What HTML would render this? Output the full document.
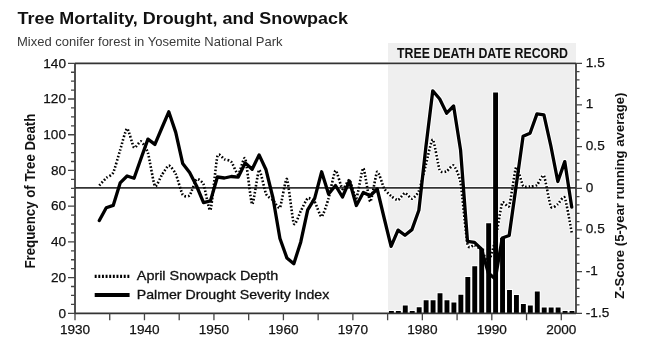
<!DOCTYPE html>
<html><head><meta charset="utf-8"><style>
html,body{margin:0;padding:0;background:#fff;width:650px;height:349px;overflow:hidden}
svg{display:block;will-change:transform}
text{font-family:"Liberation Sans",sans-serif;fill:#111}
.ttl{font-size:16.4px;font-weight:bold}
.sub{font-size:13.1px;fill:#3a3a3a}
.hdr{font-size:13.9px;font-weight:bold}
.tl{font-size:13.6px;stroke:#111;stroke-width:0.25px}
.at{font-size:13.5px;font-weight:bold}
.lg{font-size:12.8px;stroke:#111;stroke-width:0.3px}
</style></head><body>
<svg width="650" height="349" viewBox="0 0 650 349">
<rect x="388" y="43" width="188.0" height="270.3" fill="#efefef"/>
<path d="M387.94,310.00h6.90V313.3h-6.90ZM394.89,310.00h6.90V313.3h-6.90ZM401.83,304.50h6.90V313.3h-6.90ZM408.78,310.00h6.90V313.3h-6.90ZM415.73,306.20h6.90V313.3h-6.90ZM422.67,299.30h6.90V313.3h-6.90ZM429.62,299.30h6.90V313.3h-6.90ZM436.57,292.20h6.90V313.3h-6.90ZM443.51,299.30h6.90V313.3h-6.90ZM450.46,301.40h6.90V313.3h-6.90ZM457.41,293.80h6.90V313.3h-6.90ZM464.36,276.00h6.90V313.3h-6.90ZM471.30,265.20h6.90V313.3h-6.90ZM478.25,247.50h6.90V313.3h-6.90ZM485.20,222.20h6.90V313.3h-6.90ZM492.14,91.60h6.90V313.3h-6.90ZM499.09,237.00h6.90V313.3h-6.90ZM506.04,288.90h6.90V313.3h-6.90ZM512.98,294.00h6.90V313.3h-6.90ZM519.93,303.00h6.90V313.3h-6.90ZM526.88,304.60h6.90V313.3h-6.90ZM533.83,290.40h6.90V313.3h-6.90ZM540.77,306.50h6.90V313.3h-6.90ZM547.72,306.50h6.90V313.3h-6.90ZM554.67,306.50h6.90V313.3h-6.90ZM561.61,310.10h6.90V313.3h-6.90ZM568.56,310.10h6.90V313.3h-6.90Z" fill="#fff"/>
<polyline points="99.31,220.50 106.26,207.70 113.21,205.40 120.16,182.90 127.10,176.00 134.05,178.30 141.00,158.50 147.94,139.10 154.89,144.40 161.84,128.00 168.78,111.80 175.73,132.40 182.68,163.40 189.63,172.50 196.57,186.00 203.52,202.70 210.47,200.90 217.41,177.00 224.36,178.00 231.31,176.50 238.25,177.10 245.20,162.90 252.15,169.30 259.10,154.90 266.04,169.80 272.99,198.00 279.94,238.50 286.88,257.90 293.83,263.70 300.78,241.90 307.72,209.80 314.67,198.30 321.62,171.80 328.57,194.00 335.51,185.50 342.46,197.00 349.41,181.00 356.35,205.50 363.30,192.40 370.25,195.80 377.19,189.00 384.14,218.00 391.09,246.40 398.04,230.10 404.98,235.30 411.93,229.60 418.88,210.30 425.82,147.50 432.77,90.80 439.72,99.00 446.66,113.20 453.61,106.00 460.56,150.00 467.51,241.30 474.45,242.40 481.40,249.00 488.35,273.00 495.29,279.00 502.24,238.00 509.19,235.50 516.13,186.00 523.08,136.20 530.03,133.20 536.98,113.90 543.92,114.80 550.87,146.00 557.82,181.50 564.76,161.60 571.71,207.00" fill="none" stroke="#fff" stroke-width="5.3" stroke-linejoin="round"/>
<path d="M99.31,185.50C100.01,184.75 104.87,179.29 106.26,178.00C107.65,176.71 111.82,175.40 113.21,172.60C114.60,169.80 118.77,154.40 120.16,150.00C121.54,145.60 125.71,128.84 127.10,128.60C128.49,128.36 132.66,146.32 134.05,147.60C135.44,148.88 139.61,140.86 141.00,141.40C142.39,141.94 146.55,148.54 147.94,153.00C149.33,157.46 153.50,183.80 154.89,186.00C156.28,188.20 160.45,177.04 161.84,175.00C163.23,172.96 167.40,165.70 168.78,165.60C170.17,165.50 174.34,171.09 175.73,174.00C177.12,176.91 181.29,192.56 182.68,194.70C184.07,196.84 188.24,196.94 189.63,195.40C191.01,193.86 195.18,180.40 196.57,179.30C197.96,178.20 202.13,181.33 203.52,184.40C204.91,187.47 209.08,212.80 210.47,210.00C211.86,207.20 216.02,161.48 217.41,156.40C218.80,151.32 222.97,158.66 224.36,159.20C225.75,159.74 229.92,160.28 231.31,161.80C232.70,163.32 236.87,174.75 238.25,174.40C239.64,174.05 243.81,155.32 245.20,158.30C246.59,161.28 250.76,203.03 252.15,204.20C253.54,205.37 257.71,171.03 259.10,170.00C260.48,168.97 264.65,190.90 266.04,193.90C267.43,196.90 271.60,198.63 272.99,200.00C274.38,201.37 278.55,209.70 279.94,207.60C281.33,205.50 285.49,177.40 286.88,179.00C288.27,180.60 292.44,220.40 293.83,223.60C295.22,226.80 299.39,213.53 300.78,211.00C302.17,208.47 306.34,199.22 307.72,198.30C309.11,197.38 313.28,199.96 314.67,201.80C316.06,203.64 320.23,217.05 321.62,216.70C323.01,216.35 327.18,202.91 328.57,198.30C329.95,193.69 334.12,171.53 335.51,170.60C336.90,169.67 341.07,188.06 342.46,189.00C343.85,189.94 348.02,179.10 349.41,180.00C350.80,180.90 354.96,199.17 356.35,198.00C357.74,196.83 361.91,167.94 363.30,168.30C364.69,168.66 368.86,201.25 370.25,201.60C371.64,201.95 375.81,173.12 377.19,171.80C378.58,170.48 382.75,185.98 384.14,188.40C385.53,190.82 389.70,194.84 391.09,196.00C392.48,197.16 396.65,200.30 398.04,200.00C399.42,199.70 403.59,193.13 404.98,193.00C406.37,192.87 410.54,198.90 411.93,198.70C413.32,198.50 417.49,194.37 418.88,191.00C420.27,187.63 424.43,170.14 425.82,165.00C427.21,159.86 431.38,139.09 432.77,139.60C434.16,140.11 438.33,166.93 439.72,170.10C441.11,173.27 445.28,171.76 446.66,171.30C448.05,170.84 452.22,164.36 453.61,165.50C455.00,166.64 459.17,174.83 460.56,182.70C461.95,190.57 466.12,237.95 467.51,244.20C468.89,250.45 473.06,244.62 474.45,245.20C475.84,245.78 480.01,248.32 481.40,250.00C482.79,251.68 486.96,263.00 488.35,262.00C489.74,261.00 493.90,245.90 495.29,240.00C496.68,234.10 500.85,206.42 502.24,203.00C503.63,199.58 507.80,209.38 509.19,205.80C510.58,202.22 514.75,169.20 516.13,167.20C517.52,165.20 521.69,183.87 523.08,185.80C524.47,187.73 528.64,186.58 530.03,186.50C531.42,186.42 535.59,186.07 536.98,185.00C538.36,183.93 542.53,173.63 543.92,175.80C545.31,177.97 549.48,203.86 550.87,206.70C552.26,209.54 556.43,205.10 557.82,204.20C559.21,203.30 563.37,194.87 564.76,197.70C566.15,200.53 571.02,229.02 571.71,232.50" fill="none" stroke="#fff" stroke-width="3.8" stroke-linejoin="round"/>
<line x1="75.0" y1="187.9" x2="576.0" y2="187.9" stroke="#fff" stroke-width="3.2"/>
<path d="M75.0,63.3 H576.0 M75.0,63.3 V313.3 H576.0 M576.0,63.3 V313.3" fill="none" stroke="#fff" stroke-width="3.3"/>
<line x1="75.0" y1="187.9" x2="576.0" y2="187.9" stroke="#333" stroke-width="1.6"/>
<path d="M388.94,311.00h4.90V313.3h-4.90ZM395.89,311.00h4.90V313.3h-4.90ZM402.83,305.50h4.90V313.3h-4.90ZM409.78,311.00h4.90V313.3h-4.90ZM416.73,307.20h4.90V313.3h-4.90ZM423.67,300.30h4.90V313.3h-4.90ZM430.62,300.30h4.90V313.3h-4.90ZM437.57,293.20h4.90V313.3h-4.90ZM444.51,300.30h4.90V313.3h-4.90ZM451.46,302.40h4.90V313.3h-4.90ZM458.41,294.80h4.90V313.3h-4.90ZM465.36,277.00h4.90V313.3h-4.90ZM472.30,266.20h4.90V313.3h-4.90ZM479.25,248.50h4.90V313.3h-4.90ZM486.20,223.20h4.90V313.3h-4.90ZM493.14,92.60h4.90V313.3h-4.90ZM500.09,238.00h4.90V313.3h-4.90ZM507.04,289.90h4.90V313.3h-4.90ZM513.98,295.00h4.90V313.3h-4.90ZM520.93,304.00h4.90V313.3h-4.90ZM527.88,305.60h4.90V313.3h-4.90ZM534.83,291.40h4.90V313.3h-4.90ZM541.77,307.50h4.90V313.3h-4.90ZM548.72,307.50h4.90V313.3h-4.90ZM555.67,307.50h4.90V313.3h-4.90ZM562.61,311.10h4.90V313.3h-4.90ZM569.56,311.10h4.90V313.3h-4.90Z" fill="#000"/>
<path d="M99.31,185.50C100.01,184.75 104.87,179.29 106.26,178.00C107.65,176.71 111.82,175.40 113.21,172.60C114.60,169.80 118.77,154.40 120.16,150.00C121.54,145.60 125.71,128.84 127.10,128.60C128.49,128.36 132.66,146.32 134.05,147.60C135.44,148.88 139.61,140.86 141.00,141.40C142.39,141.94 146.55,148.54 147.94,153.00C149.33,157.46 153.50,183.80 154.89,186.00C156.28,188.20 160.45,177.04 161.84,175.00C163.23,172.96 167.40,165.70 168.78,165.60C170.17,165.50 174.34,171.09 175.73,174.00C177.12,176.91 181.29,192.56 182.68,194.70C184.07,196.84 188.24,196.94 189.63,195.40C191.01,193.86 195.18,180.40 196.57,179.30C197.96,178.20 202.13,181.33 203.52,184.40C204.91,187.47 209.08,212.80 210.47,210.00C211.86,207.20 216.02,161.48 217.41,156.40C218.80,151.32 222.97,158.66 224.36,159.20C225.75,159.74 229.92,160.28 231.31,161.80C232.70,163.32 236.87,174.75 238.25,174.40C239.64,174.05 243.81,155.32 245.20,158.30C246.59,161.28 250.76,203.03 252.15,204.20C253.54,205.37 257.71,171.03 259.10,170.00C260.48,168.97 264.65,190.90 266.04,193.90C267.43,196.90 271.60,198.63 272.99,200.00C274.38,201.37 278.55,209.70 279.94,207.60C281.33,205.50 285.49,177.40 286.88,179.00C288.27,180.60 292.44,220.40 293.83,223.60C295.22,226.80 299.39,213.53 300.78,211.00C302.17,208.47 306.34,199.22 307.72,198.30C309.11,197.38 313.28,199.96 314.67,201.80C316.06,203.64 320.23,217.05 321.62,216.70C323.01,216.35 327.18,202.91 328.57,198.30C329.95,193.69 334.12,171.53 335.51,170.60C336.90,169.67 341.07,188.06 342.46,189.00C343.85,189.94 348.02,179.10 349.41,180.00C350.80,180.90 354.96,199.17 356.35,198.00C357.74,196.83 361.91,167.94 363.30,168.30C364.69,168.66 368.86,201.25 370.25,201.60C371.64,201.95 375.81,173.12 377.19,171.80C378.58,170.48 382.75,185.98 384.14,188.40C385.53,190.82 389.70,194.84 391.09,196.00C392.48,197.16 396.65,200.30 398.04,200.00C399.42,199.70 403.59,193.13 404.98,193.00C406.37,192.87 410.54,198.90 411.93,198.70C413.32,198.50 417.49,194.37 418.88,191.00C420.27,187.63 424.43,170.14 425.82,165.00C427.21,159.86 431.38,139.09 432.77,139.60C434.16,140.11 438.33,166.93 439.72,170.10C441.11,173.27 445.28,171.76 446.66,171.30C448.05,170.84 452.22,164.36 453.61,165.50C455.00,166.64 459.17,174.83 460.56,182.70C461.95,190.57 466.12,237.95 467.51,244.20C468.89,250.45 473.06,244.62 474.45,245.20C475.84,245.78 480.01,248.32 481.40,250.00C482.79,251.68 486.96,263.00 488.35,262.00C489.74,261.00 493.90,245.90 495.29,240.00C496.68,234.10 500.85,206.42 502.24,203.00C503.63,199.58 507.80,209.38 509.19,205.80C510.58,202.22 514.75,169.20 516.13,167.20C517.52,165.20 521.69,183.87 523.08,185.80C524.47,187.73 528.64,186.58 530.03,186.50C531.42,186.42 535.59,186.07 536.98,185.00C538.36,183.93 542.53,173.63 543.92,175.80C545.31,177.97 549.48,203.86 550.87,206.70C552.26,209.54 556.43,205.10 557.82,204.20C559.21,203.30 563.37,194.87 564.76,197.70C566.15,200.53 571.02,229.02 571.71,232.50" fill="none" stroke="#000" stroke-width="2.6" stroke-dasharray="1.6 1.9" stroke-linejoin="round"/>
<polyline points="99.31,220.50 106.26,207.70 113.21,205.40 120.16,182.90 127.10,176.00 134.05,178.30 141.00,158.50 147.94,139.10 154.89,144.40 161.84,128.00 168.78,111.80 175.73,132.40 182.68,163.40 189.63,172.50 196.57,186.00 203.52,202.70 210.47,200.90 217.41,177.00 224.36,178.00 231.31,176.50 238.25,177.10 245.20,162.90 252.15,169.30 259.10,154.90 266.04,169.80 272.99,198.00 279.94,238.50 286.88,257.90 293.83,263.70 300.78,241.90 307.72,209.80 314.67,198.30 321.62,171.80 328.57,194.00 335.51,185.50 342.46,197.00 349.41,181.00 356.35,205.50 363.30,192.40 370.25,195.80 377.19,189.00 384.14,218.00 391.09,246.40 398.04,230.10 404.98,235.30 411.93,229.60 418.88,210.30 425.82,147.50 432.77,90.80 439.72,99.00 446.66,113.20 453.61,106.00 460.56,150.00 467.51,241.30 474.45,242.40 481.40,249.00 488.35,273.00 495.29,279.00 502.24,238.00 509.19,235.50 516.13,186.00 523.08,136.20 530.03,133.20 536.98,113.90 543.92,114.80 550.87,146.00 557.82,181.50 564.76,161.60 571.71,207.00" fill="none" stroke="#000" stroke-width="3.3" stroke-linejoin="round" stroke-linecap="round"/>
<path d="M75.0,63.3 H576.0 M75.0,63.3 V313.3 H576.0 M576.0,63.3 V313.3" fill="none" stroke="#333" stroke-width="1.7"/>
<path d="M68.0,313.30 H75.0 M71.0,304.37 H75.0 M71.0,295.44 H75.0 M71.0,286.51 H75.0 M68.0,277.59 H75.0 M71.0,268.66 H75.0 M71.0,259.73 H75.0 M71.0,250.80 H75.0 M68.0,241.87 H75.0 M71.0,232.94 H75.0 M71.0,224.01 H75.0 M71.0,215.09 H75.0 M68.0,206.16 H75.0 M71.0,197.23 H75.0 M71.0,188.30 H75.0 M71.0,179.37 H75.0 M68.0,170.44 H75.0 M71.0,161.51 H75.0 M71.0,152.59 H75.0 M71.0,143.66 H75.0 M68.0,134.73 H75.0 M71.0,125.80 H75.0 M71.0,116.87 H75.0 M71.0,107.94 H75.0 M68.0,99.01 H75.0 M71.0,90.09 H75.0 M71.0,81.16 H75.0 M71.0,72.23 H75.0 M68.0,63.30 H75.0 M576.0,63.30 H582.0 M576.0,71.63 H579.5 M576.0,79.97 H579.5 M576.0,88.30 H579.5 M576.0,96.63 H579.5 M576.0,104.97 H582.0 M576.0,113.30 H579.5 M576.0,121.63 H579.5 M576.0,129.97 H579.5 M576.0,138.30 H579.5 M576.0,146.63 H582.0 M576.0,154.97 H579.5 M576.0,163.30 H579.5 M576.0,171.63 H579.5 M576.0,179.97 H579.5 M576.0,188.30 H582.0 M576.0,196.63 H579.5 M576.0,204.97 H579.5 M576.0,213.30 H579.5 M576.0,221.63 H579.5 M576.0,229.97 H582.0 M576.0,238.30 H579.5 M576.0,246.63 H579.5 M576.0,254.97 H579.5 M576.0,263.30 H579.5 M576.0,271.63 H582.0 M576.0,279.97 H579.5 M576.0,288.30 H579.5 M576.0,296.63 H579.5 M576.0,304.97 H579.5 M576.0,313.30 H582.0 M75.00,313.3 V320.3 M109.73,313.3 V320.3 M144.47,313.3 V320.3 M179.20,313.3 V320.3 M213.94,313.3 V320.3 M248.68,313.3 V320.3 M283.41,313.3 V320.3 M318.14,313.3 V320.3 M352.88,313.3 V320.3 M387.62,313.3 V320.3 M422.35,313.3 V320.3 M457.08,313.3 V320.3 M491.82,313.3 V320.3 M526.56,313.3 V320.3 M561.29,313.3 V320.3" fill="none" stroke="#444" stroke-width="1.3"/>
<line x1="94.7" y1="276.3" x2="129.6" y2="276.3" stroke="#000" stroke-width="3.2" stroke-dasharray="1.95 1.68"/>
<line x1="94.7" y1="295" x2="129.6" y2="295" stroke="#000" stroke-width="3.8"/>
<text x="397" y="57.9" class="hdr" textLength="171" lengthAdjust="spacingAndGlyphs">TREE DEATH DATE RECORD</text>
<text x="66" y="317.60" class="tl" text-anchor="end">0</text>
<text x="66" y="281.89" class="tl" text-anchor="end">20</text>
<text x="66" y="246.17" class="tl" text-anchor="end">40</text>
<text x="66" y="210.46" class="tl" text-anchor="end">60</text>
<text x="66" y="174.74" class="tl" text-anchor="end">80</text>
<text x="66" y="139.03" class="tl" text-anchor="end">100</text>
<text x="66" y="103.31" class="tl" text-anchor="end">120</text>
<text x="66" y="67.60" class="tl" text-anchor="end">140</text>
<text x="585.8" y="66.60" class="tl">1.5</text>
<text x="585.8" y="108.27" class="tl">1</text>
<text x="585.8" y="149.93" class="tl">0.5</text>
<text x="585.8" y="191.60" class="tl">0</text>
<text x="585.8" y="233.27" class="tl">0.5</text>
<text x="585.8" y="274.93" class="tl">-1</text>
<text x="585.8" y="316.60" class="tl">-1.5</text>
<text x="75.00" y="334.0" class="tl" text-anchor="middle">1930</text>
<text x="144.47" y="334.0" class="tl" text-anchor="middle">1940</text>
<text x="213.94" y="334.0" class="tl" text-anchor="middle">1950</text>
<text x="283.41" y="334.0" class="tl" text-anchor="middle">1960</text>
<text x="352.88" y="334.0" class="tl" text-anchor="middle">1970</text>
<text x="422.35" y="334.0" class="tl" text-anchor="middle">1980</text>
<text x="491.82" y="334.0" class="tl" text-anchor="middle">1990</text>
<text x="561.29" y="334.0" class="tl" text-anchor="middle">2000</text>
<text transform="translate(35,191.1) rotate(-90)" class="at" style="font-size:14.1px" text-anchor="middle" textLength="155" lengthAdjust="spacingAndGlyphs">Frequency of Tree Death</text>
<text transform="translate(623.7,195.75) rotate(-90)" class="at" text-anchor="middle" textLength="206.3" lengthAdjust="spacingAndGlyphs">Z-Score (5-year running average)</text>
<text x="136.8" y="280" class="lg" textLength="141.5" lengthAdjust="spacingAndGlyphs">April Snowpack Depth</text>
<text x="136.8" y="299" class="lg" textLength="192.5" lengthAdjust="spacingAndGlyphs">Palmer Drought Severity Index</text>
<text x="17.5" y="23.8" class="ttl" textLength="330.5" lengthAdjust="spacingAndGlyphs">Tree Mortality, Drought, and Snowpack</text>
<text x="17" y="45.7" class="sub" textLength="265.5" lengthAdjust="spacingAndGlyphs">Mixed conifer forest in Yosemite National Park</text>
</svg>
</body></html>
